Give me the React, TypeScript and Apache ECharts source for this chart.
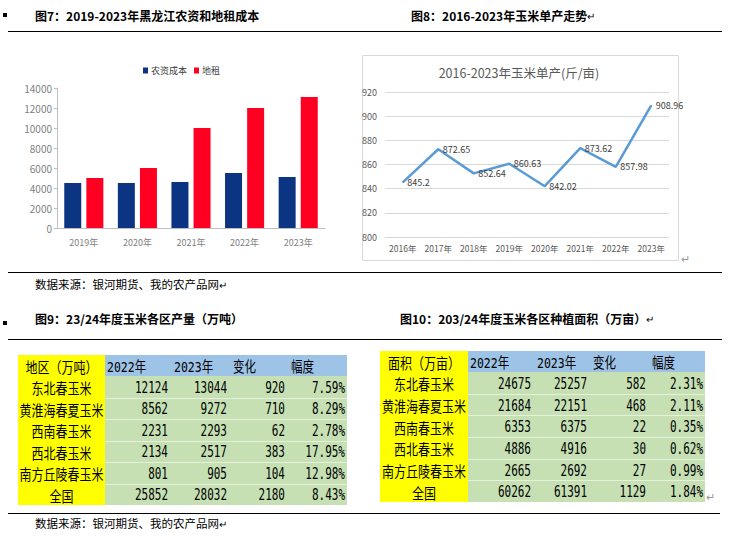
import React, { useEffect, useRef } from "react";
import * as echarts from "echarts";

// ---- Figure 7: input cost vs land rent ----
const costYears = ["2019年", "2020年", "2021年", "2022年", "2023年"];
const inputCost = [4500, 4500, 4600, 5500, 5100];
const landRent = [5000, 6000, 10000, 12000, 13100];
const costSeriesNames = ["农资成本", "地租"];

// ---- Figure 8: corn yield per mu ----
const yieldYears = ["2016年", "2017年", "2018年", "2019年", "2020年", "2021年", "2022年", "2023年"];
const yieldValues = [845.2, 872.65, 852.64, 860.63, 842.02, 873.62, 857.98, 908.96];

// ---- Tables ----
const tableHeader = ["2022年", "2023年", "变化", "幅度"];
const regions = ["东北春玉米", "黄淮海春夏玉米", "西南春玉米", "西北春玉米", "南方丘陵春玉米", "全国"];
const output2022 = [12124, 8562, 2231, 2134, 801, 25852];
const output2023 = [13044, 9272, 2293, 2517, 905, 28032];
const outputChange = [920, 710, 62, 383, 104, 2180];
const outputPct = ["7.59%", "8.29%", "2.78%", "17.95%", "12.98%", "8.43%"];
const area2022 = [24675, 21684, 6353, 4886, 2665, 60262];
const area2023 = [25257, 22151, 6375, 4916, 2692, 61391];
const areaChange = [582, 468, 22, 30, 27, 1129];
const areaPct = ["2.31%", "2.11%", "0.35%", "0.62%", "0.99%", "1.84%"];

const CJK = "'Noto Sans CJK SC', 'Noto Sans', sans-serif";
const MONO = "'DejaVu Sans Mono', 'Noto Sans CJK SC', monospace";
const NARROW = "'Liberation Sans Narrow', 'Arial Narrow', 'Noto Sans CJK SC', sans-serif";

function buildTable(
  x0: number,
  top: number,
  edges: number[], // yellow right, then right edge of each data column
  headerH: number,
  rowH: number,
  corner: string,
  cols: (string | number)[][]
) {
  const els: any[] = [];
  const n = regions.length;
  const yr = edges[0];
  const right = edges[edges.length - 1];
  const bottom = top + headerH + n * rowH;
  els.push({ type: "rect", shape: { x: x0, y: top, width: yr - x0, height: bottom - top }, style: { fill: "#FFFF00" } });
  els.push({ type: "rect", shape: { x: yr, y: top, width: right - yr, height: headerH }, style: { fill: "#9DC3E6" } });
  els.push({ type: "rect", shape: { x: yr, y: top + headerH, width: right - yr, height: n * rowH }, style: { fill: "#C6E0B4" } });
  for (let i = 1; i < n; i++) {
    const y = Math.round(top + headerH + i * rowH) + 0.5;
    els.push({ type: "line", shape: { x1: yr, y1: y, x2: right, y2: y }, style: { stroke: "rgba(255,255,255,0.55)", lineWidth: 1 } });
  }
  const cx = (x0 + yr) / 2;
  const hy = top + headerH / 2 + 1;
  els.push({
    type: "text", x: cx, y: hy, scaleY: 1.25,
    style: { text: corner, fontSize: 12, fontFamily: CJK, fill: "#000", align: "center", verticalAlign: "middle" },
  });
  tableHeader.forEach((h, j) => {
    const x = edges[j] + (j === 0 ? 2 : 4);
    els.push({
      type: "text", x, y: hy, scaleY: 1.3,
      style: { text: h, fontSize: 11.5, fontFamily: MONO, fill: "#000", align: "left", verticalAlign: "middle" },
    });
  });
  regions.forEach((r, i) => {
    const y = top + headerH + (i + 0.5) * rowH + 1;
    els.push({
      type: "text", x: cx, y, scaleY: 1.25,
      style: { text: r, fontSize: 12, fontFamily: CJK, fill: "#000", align: "center", verticalAlign: "middle" },
    });
    cols.forEach((col, j) => {
      els.push({
        type: "text", x: edges[j + 1] - 2, y, scaleY: 1.4,
        style: { text: String(col[i]), fontSize: 11, fontFamily: MONO, fill: "#000", align: "right", verticalAlign: "middle" },
      });
    });
  });
  return els;
}

function hline(y: number, x1 = 8, x2 = 722) {
  return { type: "line", shape: { x1, y1: y, x2, y2: y }, style: { stroke: "#000", lineWidth: 1.2 } };
}

function titleText(x: number, y: number, t: string, ret: boolean) {
  return {
    type: "text", x, y,
    style: {
      text: ret ? `{t|${t}}{r|↵}` : `{t|${t}}`,
      verticalAlign: "middle",
      rich: {
        t: { fontSize: 12, fontWeight: "bold", fontFamily: CJK, color: "#1C2B48" },
        r: { fontSize: 10, fontFamily: CJK, color: "#9A9A9A" },
      },
    },
  };
}

function sourceText(x: number, y: number) {
  return {
    type: "text", x, y,
    style: {
      text: "{t|数据来源：银河期货、我的农产品网}{r|↵}",
      verticalAlign: "middle",
      rich: {
        t: { fontSize: 11.5, fontFamily: CJK, color: "#333" },
        r: { fontSize: 10, fontFamily: CJK, color: "#9A9A9A" },
      },
    },
  };
}

export default function App() {
  const ref = useRef<HTMLDivElement>(null);
  useEffect(() => {
    if (!ref.current) return;
    const chart = echarts.init(ref.current, null, { renderer: "svg", width: 732, height: 560 });
    const graphic: any[] = [
      // line chart frame
      { type: "rect", shape: { x: 362.5, y: 55.5, width: 316, height: 205 }, style: { fill: "none", stroke: "#D9D9D9", lineWidth: 1 } },
      { type: "text", x: 519, y: 72, style: { text: "2016-2023年玉米单产(斤/亩)", fontSize: 12.5, fontFamily: CJK, fill: "#595959", align: "center", verticalAlign: "middle" } },
      { type: "text", x: 681, y: 258, style: { text: "↵", fontSize: 11, fontFamily: CJK, fill: "#9A9A9A", align: "left", verticalAlign: "middle" } },
      { type: "rect", shape: { x: 3, y: 13, width: 4, height: 4 }, style: { fill: "#000" } },
      { type: "rect", shape: { x: 3, y: 321, width: 4, height: 4 }, style: { fill: "#000" } },
      hline(31.5),
      hline(272.5),
      hline(339.5),
      hline(513.5, 8, 720),
      titleText(35, 15, "图7：2019-2023年黑龙江农资和地租成本", false),
      titleText(411, 15, "图8：2016-2023年玉米单产走势", true),
      sourceText(35, 284),
      titleText(35, 318, "图9：23/24年度玉米各区产量（万吨）", false),
      titleText(400, 318, "图10：203/24年度玉米各区种植面积（万亩）", true),
      sourceText(35, 523),
      ...buildTable(18, 355, [105, 170, 229, 287, 347], 21, 21.5, "地区（万吨）", [output2022, output2023, outputChange, outputPct]),
      ...buildTable(380, 351, [468, 533, 589, 648, 705], 21, 21.67, "面积（万亩）", [area2022, area2023, areaChange, areaPct]),
      { type: "text", x: 706, y: 496, style: { text: "↵", fontSize: 11, fontFamily: CJK, fill: "#9A9A9A", align: "left", verticalAlign: "middle" } },
    ];

    chart.setOption({
      animation: false,
      backgroundColor: "#fff",
      legend: {
        data: costSeriesNames,
        left: 138,
        top: 61,
        itemWidth: 5,
        itemHeight: 6,
        itemGap: 7,
        icon: "rect",
        textStyle: { fontSize: 9, fontFamily: CJK, color: "#404040", padding: [0, 0, 0, -2] },
      },
      grid: [
        { left: 57, top: 88, width: 268, height: 140 },
        { left: 385, top: 92, width: 284, height: 145 },
      ],
      xAxis: [
        {
          type: "category", gridIndex: 0, data: costYears,
          axisLine: { lineStyle: { color: "#BFBFBF" } },
          axisTick: { show: false },
          axisLabel: { color: "#7F7F7F", fontSize: 9, fontFamily: NARROW, margin: 10, interval: 0 },
        },
        {
          type: "category", gridIndex: 1, data: yieldYears,
          axisLine: { show: false },
          axisTick: { show: false },
          axisLabel: { color: "#595959", fontSize: 8.5, fontFamily: NARROW, margin: 7, interval: 0 },
        },
      ],
      yAxis: [
        {
          type: "value", gridIndex: 0, min: 0, max: 14000, interval: 2000,
          axisLine: { show: true, lineStyle: { color: "#BFBFBF" } },
          axisTick: { show: true, length: 3, lineStyle: { color: "#BFBFBF" } },
          splitLine: { show: false },
          axisLabel: { color: "#7F7F7F", fontSize: 10, fontFamily: NARROW, margin: 5, formatter: (v: number) => String(v) },
        },
        {
          type: "value", gridIndex: 1, min: 800, max: 920, interval: 20,
          axisLine: { show: false },
          axisTick: { show: false },
          splitLine: { lineStyle: { color: "#D9D9D9", width: 1 } },
          axisLabel: { color: "#595959", fontSize: 9, fontFamily: NARROW, margin: 8, formatter: (v: number) => String(v) },
        },
      ],
      series: [
        {
          name: costSeriesNames[0], type: "bar", xAxisIndex: 0, yAxisIndex: 0,
          data: inputCost, barWidth: 17, barGap: "30%",
          itemStyle: { color: "#0B3482" },
        },
        {
          name: costSeriesNames[1], type: "bar", xAxisIndex: 0, yAxisIndex: 0,
          data: landRent, barWidth: 17, barGap: "30%",
          itemStyle: { color: "#FF0022" },
        },
        {
          name: "玉米单产", type: "line", xAxisIndex: 1, yAxisIndex: 1,
          data: yieldValues,
          symbol: "circle", symbolSize: 1,
          itemStyle: { color: "#5B9BD5" },
          lineStyle: { color: "#5B9BD5", width: 2.5 },
          label: { show: true, position: "right", distance: 4, fontSize: 9, fontFamily: NARROW, color: "#404040" },
        },
      ],
      graphic,
    });
    return () => chart.dispose();
  }, []);
  return <div ref={ref} style={{ position: "absolute", left: 0, top: 0, width: 732, height: 560 }} />;
}
